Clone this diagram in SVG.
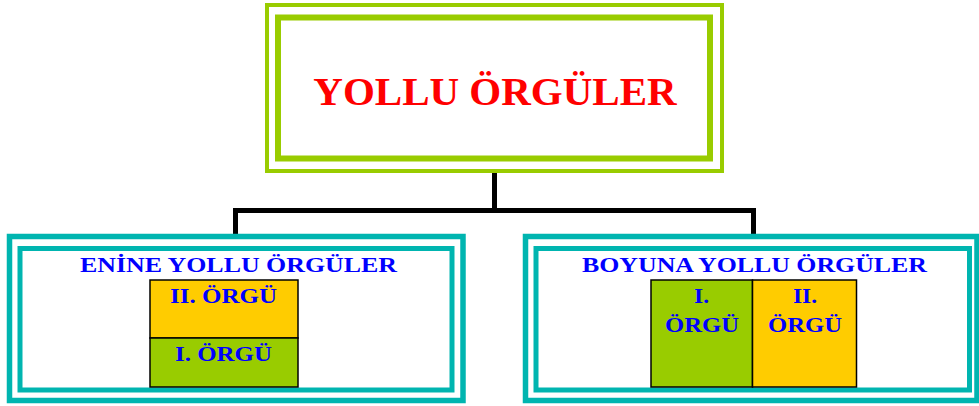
<svg xmlns="http://www.w3.org/2000/svg" width="979" height="406" viewBox="0 0 979 406">
<style>
.gOut{fill:#fff;stroke:#99CC00;stroke-width:4}
.gIn{fill:#fff;stroke:#99CC00;stroke-width:6}
.tOut{fill:#fff;stroke:#00B5B0;stroke-width:5.5}
.tIn{fill:#fff;stroke:#00B5B0;stroke-width:5}
.conn{fill:none;stroke:#000;stroke-width:5}
.cell{stroke:#000;stroke-width:1.5}
.title{font-family:"Liberation Serif","Times New Roman",serif;font-weight:bold;fill:#FF0000;font-size:41px;text-anchor:middle}
.lbl{font-family:"Liberation Serif","Times New Roman",serif;font-weight:bold;fill:#0000FF;font-size:22px;text-anchor:middle}
</style>
<rect width="979" height="406" fill="#fff"/>
<g id="connectors">
<path class="conn" d="M494.5 172 V210.5 M235.5 236 V210.5 H753.5 V236"/>
</g>
<g id="root">
<rect class="gOut" x="267" y="5" width="455" height="166"/>
<rect class="gIn" x="278" y="17.5" width="432" height="141"/>
<text class="title" x="495" y="105">YOLLU ÖRGÜLER</text>
</g>
<g id="enine">
<rect class="tOut" x="9.5" y="236.5" width="453.5" height="164"/>
<rect class="tIn" x="20" y="248.5" width="432" height="141.5"/>
<text class="lbl" x="238.5" y="271.5" textLength="317" lengthAdjust="spacingAndGlyphs">ENİNE YOLLU ÖRGÜLER</text>
<rect class="cell" x="150" y="280" width="148" height="58" fill="#FFCC00"/>
<rect class="cell" x="150" y="338" width="148" height="49" fill="#99CC00"/>
<text class="lbl" x="223.5" y="303" textLength="107" lengthAdjust="spacingAndGlyphs">II. ÖRGÜ</text>
<text class="lbl" x="223.5" y="360.5" textLength="97" lengthAdjust="spacingAndGlyphs">I. ÖRGÜ</text>
</g>
<g id="boyuna">
<rect class="tOut" x="525.5" y="236.5" width="451.5" height="164"/>
<rect class="tIn" x="536" y="248.5" width="433.5" height="141.5"/>
<text class="lbl" x="754.5" y="271.5" textLength="345" lengthAdjust="spacingAndGlyphs">BOYUNA YOLLU ÖRGÜLER</text>
<rect class="cell" x="651" y="280" width="101.5" height="107" fill="#99CC00"/>
<rect class="cell" x="752.5" y="280" width="104" height="107" fill="#FFCC00"/>
<text class="lbl" x="701.5" y="303" textLength="15" lengthAdjust="spacingAndGlyphs">I.</text>
<text class="lbl" x="702" y="331.5" textLength="74" lengthAdjust="spacingAndGlyphs">ÖRGÜ</text>
<text class="lbl" x="805" y="303" textLength="24" lengthAdjust="spacingAndGlyphs">II.</text>
<text class="lbl" x="805" y="331.5" textLength="74" lengthAdjust="spacingAndGlyphs">ÖRGÜ</text>
</g>
</svg>
